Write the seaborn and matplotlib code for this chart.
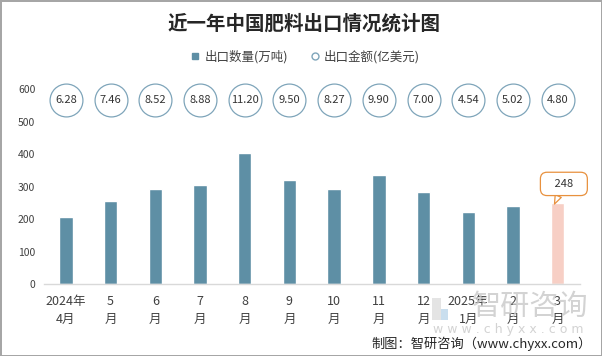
import matplotlib
matplotlib.use("Agg")
from matplotlib import pyplot as plt
from matplotlib.lines import Line2D
from matplotlib.patches import Rectangle
import pandas as pd
import seaborn as sns

# data
months = ["2024年\n4月", "5\n月", "6\n月", "7\n月", "8\n月", "9\n月",
          "10\n月", "11\n月", "12\n月", "2025年\n1月", "2\n月", "3\n月"]
volume = [206, 255, 292, 305, 403, 320, 292, 335, 283, 221, 240, 248]
amount = [6.28, 7.46, 8.52, 8.88, 11.20, 9.50, 8.27, 9.90, 7.00, 4.54, 5.02, 4.80]

bar_color = "#5e8fa5"
last_color = "#f7cfc5"
ring_color = "#7fa5ba"
callout_color = "#e8913e"
text_color = "#404040"

df = pd.DataFrame({"month": months, "volume": volume, "amount": amount})

sns.set_style("white")
plt.rcParams["font.family"] = ["Noto Sans CJK SC", "DejaVu Sans"]

fig = plt.figure(figsize=(6.02, 3.56), dpi=100)
fig.patch.set_edgecolor("#a6a6a6")
fig.patch.set_linewidth(2)
ax = fig.add_axes([0.0724, 0.2022, 0.891, 0.5478])

palette = [bar_color] * (len(months) - 1) + [last_color]
sns.barplot(data=df, x="month", y="volume", hue="month", palette=palette,
            width=0.3, legend=False, ax=ax, saturation=1)

ax.set_ylim(0, 600)
ax.set_xlim(-0.5, len(months) - 0.5)
ax.set_yticks(range(0, 601, 100))
ax.set_xlabel("")
ax.set_ylabel("")
for s in ["top", "right", "left"]:
    ax.spines[s].set_visible(False)
ax.spines["bottom"].set_color("#d9d9d9")
ax.spines["bottom"].set_linewidth(1)
ax.tick_params(axis="y", length=0, labelsize=7.5, labelcolor=text_color, pad=6)
ax.tick_params(axis="x", length=0, labelsize=9, labelcolor=text_color, pad=8)
for lab in ax.get_xticklabels():
    lab.set_linespacing(1.5)

# export amount in rings along the top
ring_y = 566
ax.scatter(range(len(amount)), [ring_y] * len(amount), s=560, marker="o",
           facecolor="white", edgecolor=ring_color, linewidth=0.9,
           clip_on=False, zorder=3)
for i, v in enumerate(amount):
    ax.text(i, ring_y, f"{v:.2f}", ha="center", va="center", fontsize=8,
            color="#333333", zorder=4, clip_on=False)

# callout on the latest month
last = len(volume) - 1
ax.annotate(f"   {volume[last]}   ", xy=(last - 0.07, volume[last] - 2),
            xytext=(last + 0.14, volume[last] + 60),
            ha="center", va="center", fontsize=8, color="#333333",
            bbox=dict(boxstyle="round,pad=0.6,rounding_size=0.6",
                      fc="white", ec=callout_color, lw=0.9),
            arrowprops=dict(arrowstyle="wedge,tail_width=0.6,shrink_factor=0.5",
                            fc="white", ec=callout_color, lw=0.9,
                            shrinkA=0, shrinkB=0),
            zorder=5)

# title and legend
fig.text(0.505, 1 - 24 / 356, "近一年中国肥料出口情况统计图", ha="center",
         va="center", fontsize=14, fontweight="bold", color="#262626")
handles = [Line2D([], [], marker="s", color=bar_color, ls="", markersize=5),
           Line2D([], [], marker="o", mfc="white", mec=ring_color, ls="",
                  markersize=5)]
fig.legend(handles, ["出口数量(万吨)", "出口金额(亿美元)"], loc="center",
           bbox_to_anchor=(0.507, 1 - 57 / 356), ncol=2, frameon=False,
           fontsize=9, handletextpad=0.3, columnspacing=1.8,
           labelcolor=text_color, handlelength=0.8)

# watermark
fig.patches.append(Rectangle((432 / 602, 1 - 320 / 356), 9 / 602, 22 / 356,
                             transform=fig.transFigure, fc="#d9d9d9",
                             ec="none", alpha=0.7))
fig.patches.append(Rectangle((441 / 602, 1 - 320 / 356), 7 / 602, 11 / 356,
                             transform=fig.transFigure, fc="#bcd6ea",
                             ec="none", alpha=0.8))
fig.text(530 / 602, 1 - 307 / 356, "智研咨询", ha="center", va="center",
         fontsize=21, color="#c8c8c8", alpha=0.8)
fig.text(508 / 602, 1 - 329 / 356, "w w w . c h y x x . c o m", ha="center",
         va="center", fontsize=9, color="#c8c8c8", alpha=0.8,
         family="DejaVu Sans")

fig.text(592 / 602, 1 - 344 / 356, "制图：智研咨询（www.chyxx.com）",
         ha="right", va="center", fontsize=9.5, color="#262626")

fig.savefig("out.png", dpi=100, edgecolor=fig.get_edgecolor())
